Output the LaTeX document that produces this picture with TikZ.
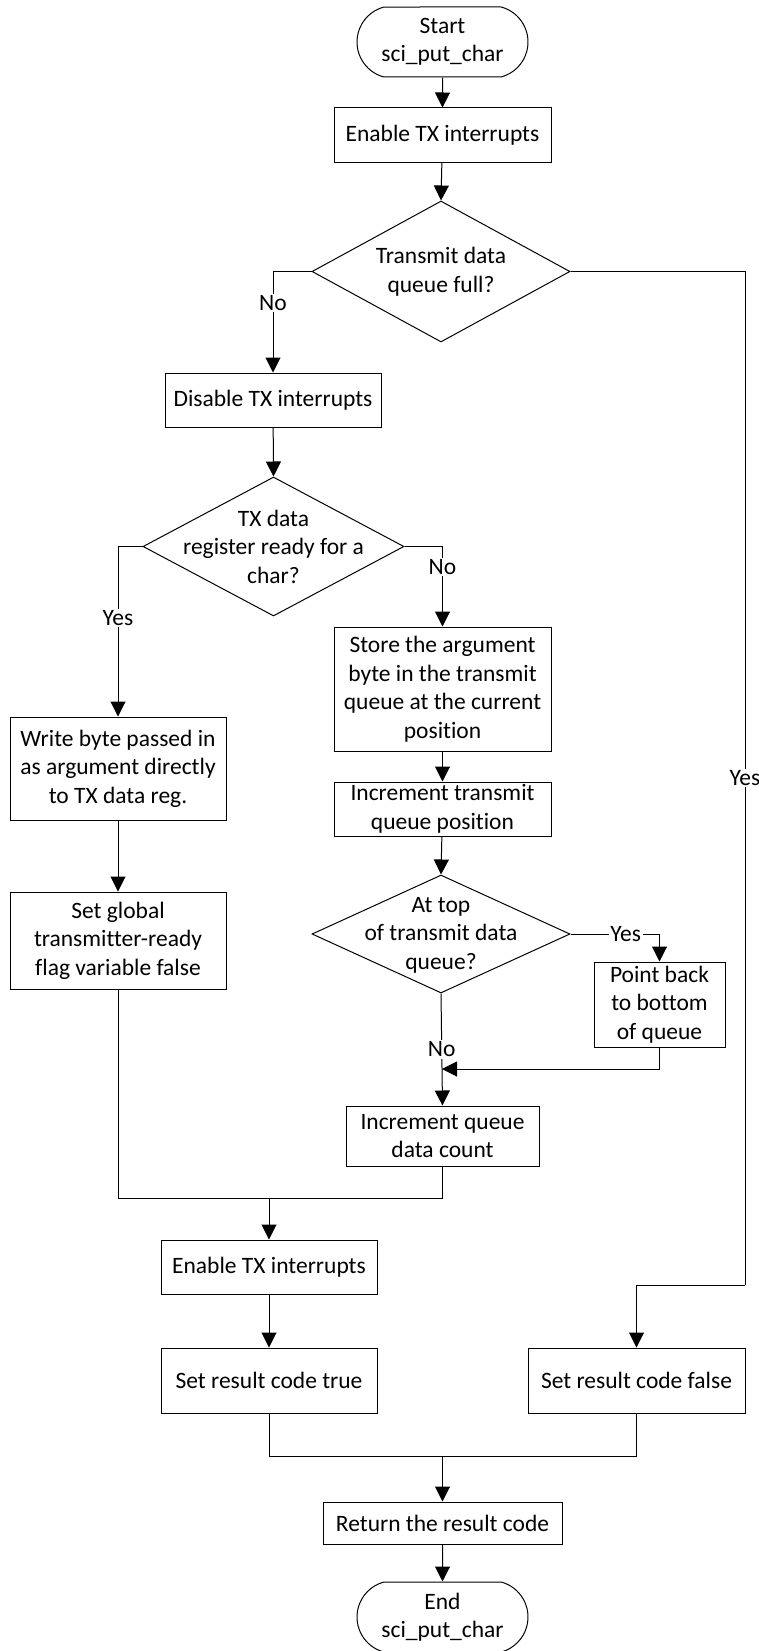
\documentclass[tikz,border=0pt]{standalone}
\usepackage{fontspec}
\setmainfont{Carlito}[Ligatures=CommonOff]
\usetikzlibrary{shapes.geometric,shapes.misc,arrows.meta}
\newcommand\flowfont{\fontsize{23.5}{28.5}\selectfont}
\tikzset{
  base/.style={draw, line width=1pt, font=\flowfont, align=center, inner sep=1pt},
  box/.style={base, rectangle},
  term/.style={base, rounded rectangle, rounded rectangle arc length=150, minimum width=173pt, minimum height=70pt},
  dia/.style={draw, line width=1pt, diamond, inner sep=0pt},
  txt/.style={font=\flowfont, align=center, inner sep=0pt},
  lbl/.style={font=\flowfont, fill=white, inner sep=1.5pt},
  arr/.style={-{Triangle[length=15pt,width=15pt]}, line width=1pt},
  ln/.style={line width=1pt}
}
\begin{document}
\begin{tikzpicture}[x=1pt,y=-1pt]
\useasboundingbox (0,0) rectangle (759,1651);
% nodes
\node[term] (start) at (442.5,42) {Start\\sci\_put\_char};
\node[box, minimum width=217pt, minimum height=54pt] (en1) at (442.5,135) {Enable TX interrupts};
\node[dia, minimum width=258pt, minimum height=141pt] (d1) at (441,271.5) {};
\node[txt] (d1t) at (d1) {Transmit data\\queue full?};
\node[box, minimum width=216pt, minimum height=54pt] (dis) at (273,400) {Disable TX interrupts};
\node[dia, minimum width=261pt, minimum height=139pt] (d2) at (273.5,546.5) {};
\node[txt] (d2t) at (d2) {TX data\\register ready for a\\char?};
\node[box, minimum width=216pt, minimum height=103pt] (wr) at (118,768.5) {Write byte passed in\\as argument directly\\to TX data reg.};
\node[box, minimum width=216pt, minimum height=97pt] (sg) at (118,940.5) {Set global\\transmitter-ready\\flag variable false};
\node[box, minimum width=217pt, minimum height=124pt] (st) at (442.5,689) {Store the argument\\byte in the transmit\\queue at the current\\position};
\node[box, minimum width=217pt, minimum height=54pt] (itx) at (442.5,809) {Increment transmit\\queue position};
\node[dia, minimum width=258pt, minimum height=118pt] (d3) at (441,934) {};
\node[txt] (d3t) at (441,935) {At top\\of transmit data\\queue?};
\node[box, minimum width=131pt, minimum height=85pt] (pb) at (659.5,1004.5) {Point back\\to bottom\\of queue};
\node[box, minimum width=193pt, minimum height=60pt] (iq) at (442.5,1136) {Increment queue\\data count};
\node[box, minimum width=216pt, minimum height=54pt] (en2) at (269,1267) {Enable TX interrupts};
\node[box, minimum width=216pt, minimum height=65pt] (stt) at (269,1380.5) {Set result code true};
\node[box, minimum width=217pt, minimum height=65pt] (stf) at (636.5,1380.5) {Set result code false};
\node[box, minimum width=239pt, minimum height=42pt] (ret) at (442.5,1523) {Return the result code};
\node[term] (end) at (442.5,1617) {End\\sci\_put\_char};
% helper coordinates
\coordinate (rt) at (745,1285);
\coordinate (m1) at (442,1069);
\coordinate (j1) at (269,1198);
\coordinate (j2) at (442.5,1456);
% connectors
\draw[arr] (start) -- (en1);
\draw[arr] (en1) -- (d1.north);
\draw[arr] (d1.west) -| (dis.north) node[lbl, pos=0.655] {No};
\draw[ln] (d1.east) -| (rt) node[lbl, pos=0.75] {Yes};
\draw[arr] (rt) -| (stf.north);
\draw[arr] (dis) -- (d2.north);
\draw[arr] (d2.west) -| (wr.north) node[lbl, pos=0.71] {Yes};
\draw[arr] (d2.east) -| (st.north) node[lbl, pos=0.63] {No};
\draw[arr] (st) -- (itx);
\draw[arr] (itx) -- (d3.north);
\draw[arr] (wr) -- (sg);
\draw[arr] (d3.east) -| (pb.north) node[lbl, pos=0.31] {Yes};
\draw[arr] (d3.south) -- (iq.north) node[lbl, pos=0.5] {No};
\draw[arr] (pb.south) |- (m1);
\draw[ln] (sg.south) |- (j1);
\draw[ln] (iq.south) |- (j1);
\draw[arr] (j1) -- (en2.north);
\draw[arr] (en2) -- (stt);
\draw[ln] (stt.south) |- (j2);
\draw[ln] (stf.south) |- (j2);
\draw[arr] (j2) -- (ret.north);
\draw[arr] (ret) -- (end);
\end{tikzpicture}
\end{document}
